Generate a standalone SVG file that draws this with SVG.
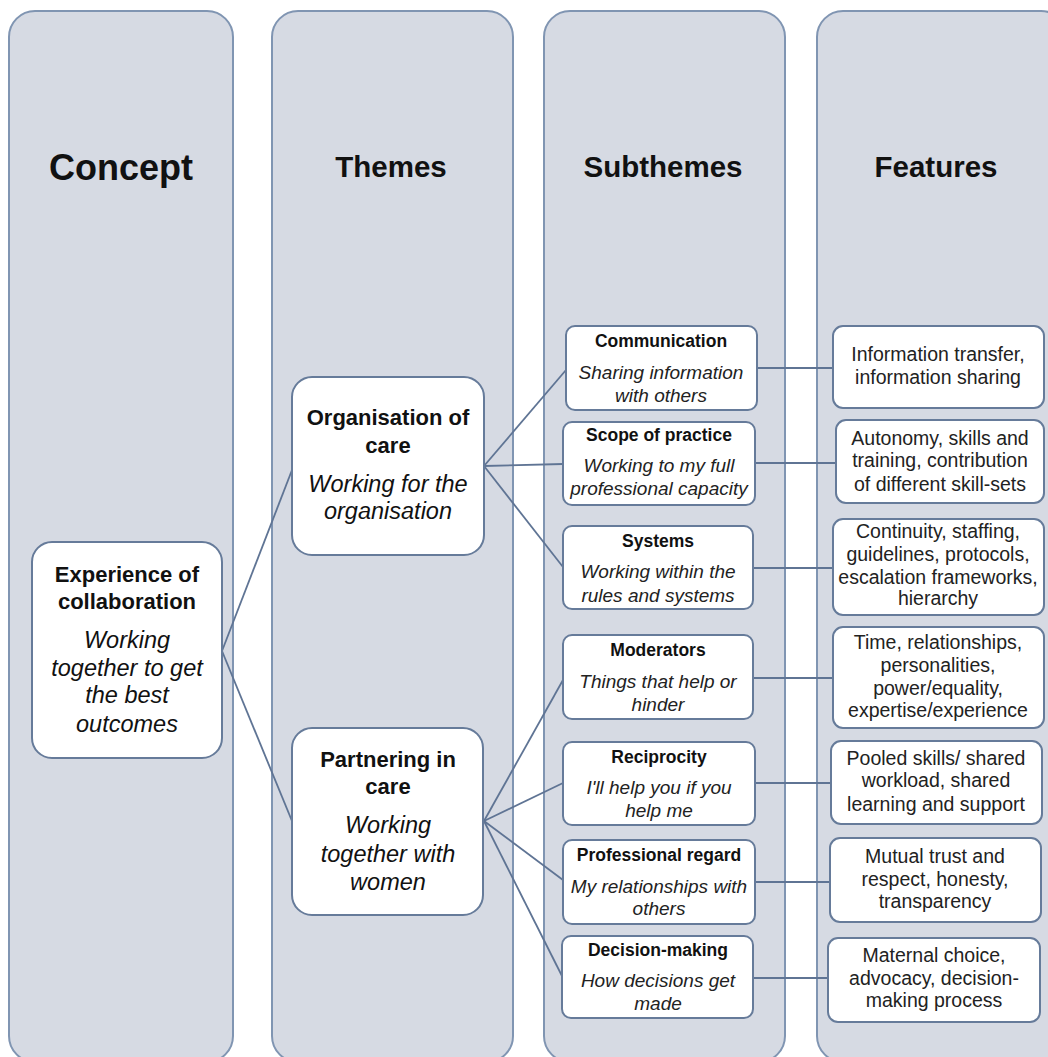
<svg xmlns="http://www.w3.org/2000/svg" width="1048" height="1057" viewBox="0 0 1048 1057">
<style>
.col{fill:#d6dae3;stroke:#8095b2;stroke-width:2}
.node{fill:#ffffff;stroke:#667b9a;stroke-width:2}
.conn line{stroke:#5f7494;stroke-width:1.8}
text{font-family:"Liberation Sans",Arial,sans-serif;fill:#111;text-anchor:middle}
.hd{font-weight:bold;font-size:29.5px}
.hd1{font-weight:bold;font-size:36px}
.tb{font-weight:bold;font-size:22px}
.ti{font-style:italic;font-size:23.5px}
.sb{font-weight:bold;font-size:17.5px}
.si{font-style:italic;font-size:19px;fill:#222}
.f{font-size:19.5px;fill:#222}
</style>
<rect width="1048" height="1057" fill="#ffffff"/>
<g id="columns">
<rect class="col" x="9" y="11" width="224" height="1051" rx="26"/>
<rect class="col" x="272" y="11" width="241" height="1051" rx="26"/>
<rect class="col" x="544" y="11" width="241" height="1051" rx="26"/>
<rect class="col" x="817" y="11" width="250" height="1051" rx="26"/>
<text class="hd1" x="121" y="180">Concept</text>
<text class="hd" x="391" y="177">Themes</text>
<text class="hd" x="663" y="177">Subthemes</text>
<text class="hd" x="936" y="177">Features</text>
</g>
<g id="connectors" class="conn">
<line x1="222" y1="651" x2="292" y2="470"/>
<line x1="222" y1="651" x2="292" y2="821"/>
<line x1="484" y1="466" x2="566" y2="370"/>
<line x1="484" y1="466" x2="563" y2="464"/>
<line x1="484" y1="466" x2="563" y2="567"/>
<line x1="484" y1="821" x2="563" y2="680"/>
<line x1="484" y1="821" x2="563" y2="783"/>
<line x1="484" y1="821" x2="563" y2="880"/>
<line x1="484" y1="821" x2="562" y2="976"/>
<line x1="757" y1="368" x2="833" y2="368"/>
<line x1="755" y1="463" x2="836" y2="463"/>
<line x1="753" y1="568" x2="833" y2="568"/>
<line x1="753" y1="678" x2="833" y2="678"/>
<line x1="755" y1="783" x2="831" y2="783"/>
<line x1="755" y1="882" x2="830" y2="882"/>
<line x1="753" y1="978" x2="828" y2="978"/>
</g>
<g id="concept">
<rect class="node" x="32" y="542" width="190" height="216" rx="20"/>
<text class="tb" x="127" y="582">Experience of</text>
<text class="tb" x="127" y="609">collaboration</text>
<text class="ti" x="127" y="648">Working</text>
<text class="ti" x="127" y="676">together to get</text>
<text class="ti" x="127" y="703">the best</text>
<text class="ti" x="127" y="732">outcomes</text>
</g>
<g id="theme-organisation">
<rect class="node" x="292" y="377" width="192" height="178" rx="20"/>
<text class="tb" x="388" y="425">Organisation of</text>
<text class="tb" x="388" y="453">care</text>
<text class="ti" x="388" y="492">Working for the</text>
<text class="ti" x="388" y="519">organisation</text>
</g>
<g id="theme-partnering">
<rect class="node" x="292" y="728" width="191" height="187" rx="20"/>
<text class="tb" x="388" y="767">Partnering in</text>
<text class="tb" x="388" y="794">care</text>
<text class="ti" x="388" y="833">Working</text>
<text class="ti" x="388" y="862">together with</text>
<text class="ti" x="388" y="890">women</text>
</g>
<g id="sub-communication">
<rect class="node" x="566" y="326" width="191" height="84" rx="9"/>
<text class="sb" x="661" y="347">Communication</text>
<text class="si" x="661" y="379">Sharing information</text>
<text class="si" x="661" y="402">with others</text>
</g>
<g id="sub-scope">
<rect class="node" x="563" y="422" width="192" height="83" rx="9"/>
<text class="sb" x="659" y="441">Scope of practice</text>
<text class="si" x="659" y="472">Working to my full</text>
<text class="si" x="659" y="495">professional capacity</text>
</g>
<g id="sub-systems">
<rect class="node" x="563" y="526" width="190" height="83" rx="9"/>
<text class="sb" x="658" y="547">Systems</text>
<text class="si" x="658" y="578">Working within the</text>
<text class="si" x="658" y="602">rules and systems</text>
</g>
<g id="sub-moderators">
<rect class="node" x="563" y="635" width="190" height="84" rx="9"/>
<text class="sb" x="658" y="656">Moderators</text>
<text class="si" x="658" y="688">Things that help or</text>
<text class="si" x="658" y="711">hinder</text>
</g>
<g id="sub-reciprocity">
<rect class="node" x="563" y="742" width="192" height="83" rx="9"/>
<text class="sb" x="659" y="763">Reciprocity</text>
<text class="si" x="659" y="794">I'll help you if you</text>
<text class="si" x="659" y="817">help me</text>
</g>
<g id="sub-regard">
<rect class="node" x="563" y="840" width="192" height="84" rx="9"/>
<text class="sb" x="659" y="861">Professional regard</text>
<text class="si" x="659" y="893">My relationships with</text>
<text class="si" x="659" y="915">others</text>
</g>
<g id="sub-decision">
<rect class="node" x="562" y="936" width="191" height="82" rx="9"/>
<text class="sb" x="658" y="956">Decision-making</text>
<text class="si" x="658" y="987">How decisions get</text>
<text class="si" x="658" y="1010">made</text>
</g>
<g id="feat-communication">
<rect class="node" x="833" y="326" width="211" height="82" rx="10"/>
<text class="f" x="938" y="361">Information transfer,</text>
<text class="f" x="938" y="384">information sharing</text>
</g>
<g id="feat-scope">
<rect class="node" x="836" y="420" width="208" height="83" rx="10"/>
<text class="f" x="940" y="445">Autonomy, skills and</text>
<text class="f" x="940" y="467">training, contribution</text>
<text class="f" x="940" y="491">of different skill-sets</text>
</g>
<g id="feat-systems">
<rect class="node" x="833" y="519" width="211" height="96" rx="10"/>
<text class="f" x="938" y="538">Continuity, staffing,</text>
<text class="f" x="938" y="561">guidelines, protocols,</text>
<text class="f" x="938" y="584">escalation frameworks,</text>
<text class="f" x="938" y="605">hierarchy</text>
</g>
<g id="feat-moderators">
<rect class="node" x="833" y="627" width="211" height="101" rx="10"/>
<text class="f" x="938" y="649">Time, relationships,</text>
<text class="f" x="938" y="672">personalities,</text>
<text class="f" x="938" y="695">power/equality,</text>
<text class="f" x="938" y="717">expertise/experience</text>
</g>
<g id="feat-reciprocity">
<rect class="node" x="831" y="741" width="211" height="83" rx="10"/>
<text class="f" x="936" y="765">Pooled skills/ shared</text>
<text class="f" x="936" y="787">workload, shared</text>
<text class="f" x="936" y="811">learning and support</text>
</g>
<g id="feat-regard">
<rect class="node" x="830" y="838" width="211" height="84" rx="10"/>
<text class="f" x="935" y="863">Mutual trust and</text>
<text class="f" x="935" y="886">respect, honesty,</text>
<text class="f" x="935" y="908">transparency</text>
</g>
<g id="feat-decision">
<rect class="node" x="828" y="938" width="212" height="84" rx="10"/>
<text class="f" x="934" y="962">Maternal choice,</text>
<text class="f" x="934" y="985">advocacy, decision-</text>
<text class="f" x="934" y="1007">making process</text>
</g>
</svg>
